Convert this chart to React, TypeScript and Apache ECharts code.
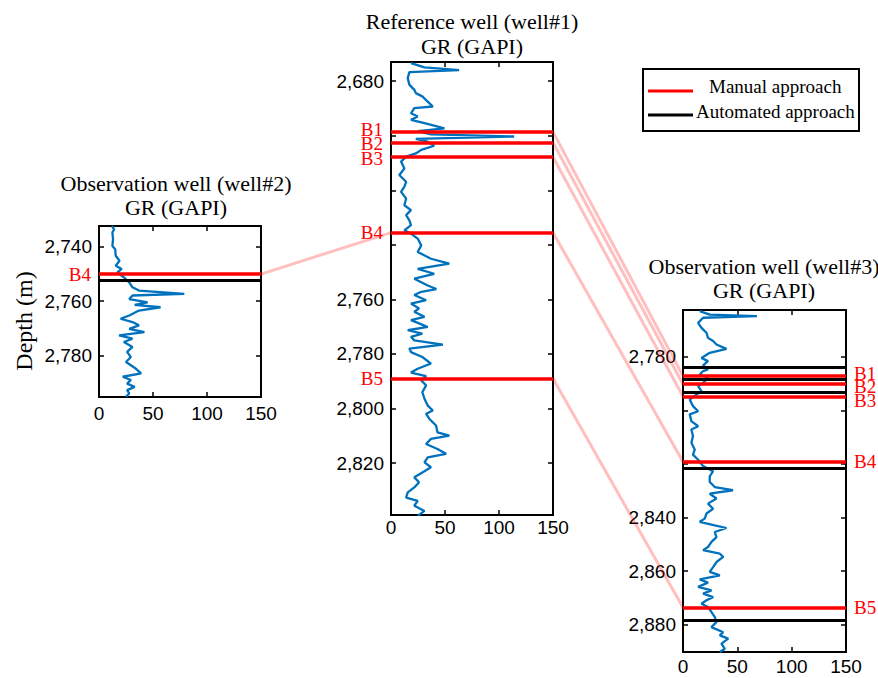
import React, { useEffect, useRef } from 'react';
import * as echarts from 'echarts';

// ---------- DATA ----------
const wellTitles = ['Observation well (well#2)', 'Reference well (well#1)', 'Observation well (well#3)'];
const axisUnit = 'GR (GAPI)';

const well2Depth = [2732.5, 2733.7, 2734.9, 2737.3, 2739.8, 2741, 2743.4, 2745.2, 2747, 2748.2, 2749.5, 2751.3, 2753.1, 2754.9, 2756.1, 2757.3, 2757.9, 2759.2, 2760.4, 2761.3, 2762.2, 2763.4, 2765.2, 2766.4, 2767.6, 2768.8, 2770.1, 2771.3, 2772.5, 2773.7, 2774.9, 2776.7, 2778.5, 2780.4, 2782.2, 2784.6, 2786.4, 2787.6, 2788.8, 2790.1, 2791.3, 2792.5, 2793.7, 2794.9];
const well2GR = [12, 14, 12.4, 13, 12.4, 15, 15.5, 19, 15.5, 21, 17, 23, 28, 31, 37, 79, 31, 28, 45, 33, 57, 37, 28, 20, 31, 37, 28, 42, 18.6, 31, 23, 31, 26, 29.5, 25, 34, 39, 22, 29.5, 26, 33, 26, 28, 25];

const well1Depth = [2673.4, 2675, 2676, 2676.7, 2678.9, 2681.3, 2683.2, 2684.4, 2685.6, 2687.5, 2689.3, 2689.9, 2691.8, 2693, 2694.2, 2695.4, 2697.3, 2698.3, 2699.5, 2700.3, 2701.2, 2702.2, 2703.7, 2705.2, 2706.5, 2707.7, 2709.5, 2712, 2714.4, 2716.9, 2718.7, 2720.6, 2723, 2725.5, 2727.3, 2729.1, 2731, 2732.8, 2734.7, 2735.9, 2737.7, 2740.2, 2742.6, 2745.1, 2746.9, 2748.8, 2750.6, 2752.4, 2754.9,
  2756.2, 2757.2, 2758.4, 2760.3, 2761.5, 2763.3, 2764.5, 2766.4, 2767.6, 2768.8, 2770.1, 2771.3, 2772.5, 2773.7, 2775, 2776.6, 2778, 2779.3, 2781.1, 2783.5, 2785.4, 2786.8, 2788.1, 2789.7, 2791.5, 2794, 2796.4, 2798.9, 2800.7, 2801.9, 2803.8, 2806.2, 2808.7, 2809.9, 2811.1, 2813, 2814.8, 2816.6, 2817.9, 2819.7, 2821.5, 2823.4, 2825.2, 2827, 2828.9, 2830.7, 2832.6, 2833.8, 2835.6, 2837.5, 2839.3];
const well1GR = [18.5, 31, 63, 17, 15.5, 17, 21.6, 23, 29, 34, 38.7, 21.6, 18.5, 24.7, 18.5, 31, 49.5, 24.7, 37, 114, 23, 34, 40, 28, 23, 14, 9.3, 12.4, 7.7, 14, 12.4, 9.3, 14, 12.4, 18.5, 14, 17, 18.5, 12.4, 18.5, 24.7, 28, 24.7, 37, 54, 24.7, 40, 21.6, 34,
  42, 28, 21.6, 32.5, 18.5, 26, 21.6, 31, 18.5, 26, 34, 15.5, 29, 18.5, 21.6, 48, 17, 18.5, 29, 37, 24.7, 18.5, 32.5, 28, 32.5, 29, 31, 34, 38.7, 32.5, 35.6, 41.7, 43, 54, 37, 32.5, 43, 51, 34, 31, 37, 29, 21.6, 26, 21.6, 15.5, 14, 24.7, 21.6, 31, 24.7];

const well3Depth = [2762.9, 2764.2, 2764.8, 2765.4, 2767.3, 2769.2, 2771, 2772.9, 2774.1, 2775.4, 2777, 2778.5, 2780.4, 2781.6, 2783.2, 2784.7, 2785.3, 2786.6, 2787.8, 2789.7, 2790.9, 2792.8, 2794.1, 2795.9, 2798.4, 2800.3, 2801.5, 2804, 2805.9, 2807.1, 2809.6, 2812.1, 2814.6, 2816.5, 2818.4, 2820.8, 2822.7, 2824.6,
  2826.7, 2828.6, 2829.8, 2831.1, 2832.9, 2834.8, 2836.7, 2838.5, 2840.4, 2841.6, 2842.9, 2843.9, 2845.4, 2847.3, 2849.1, 2851, 2852.2, 2853.5, 2854.7, 2856.6, 2858.5, 2860.3, 2861.6, 2863.1, 2864.3, 2865.9, 2867.2, 2868.4, 2869.7, 2870.9, 2872.2, 2873.4, 2875.3, 2877.1, 2879, 2880.9, 2882.8, 2884, 2885.2, 2887.1, 2889, 2890.2];
const well3GR = [15.4, 24.6, 68, 18.5, 13.9, 17, 21.6, 23, 27.7, 30.8, 40, 24.6, 17, 23, 18.5, 23, 18.5, 15.4, 23, 18.5, 13.9, 17, 12.3, 6.2, 9.2, 13.9, 6.2, 7.7, 13.9, 7.7, 9.2, 7.7, 10.8, 9.2, 13.9, 18.5, 27.7, 24.6,
  24.6, 29.2, 46, 24.6, 30.8, 23, 27.7, 21.6, 20, 15.4, 29.2, 40, 29.2, 30.8, 26.2, 23, 18.5, 33.9, 37, 30.8, 27.7, 24.6, 33.9, 15.4, 23, 13.9, 26.2, 18.5, 27.7, 21.6, 17, 23, 26.2, 29.2, 30.8, 26.2, 37, 33.9, 41.6, 35.4, 38.5, 33.9];

// boundaries (m)
const well2Names = ['B4'];
const well2Manual = [2750.1];
const well2Auto = [2752.4];
const well1Names = ['B1', 'B2', 'B3', 'B4', 'B5'];
const well1Manual = [2698.6, 2702.5, 2707.8, 2735.5, 2789];
const well3Names = ['B1', 'B2', 'B3', 'B4', 'B5'];
const well3Manual = [2787.1, 2790.2, 2794.8, 2819.2, 2873.6];
const well3Auto = [2784.0, 2788.3, 2793.1, 2821.6, 2878.4];

// axes
const grMin = 0;
const grMax = 150;
const grStep = 50;
const well2Range = [2732.5, 2795];
const well1Range = [2673, 2839];
const well3Range = [2762.5, 2890.2];
const well2Ticks = [2740, 2760, 2780];
const well2Labels = [2740, 2760, 2780];
const well1Ticks = [2680, 2700, 2720, 2740, 2760, 2780, 2800, 2820];
const well1Labels = [2680, 2760, 2780, 2800, 2820];
const well3Ticks = [2780, 2800, 2820, 2840, 2860, 2880];
const well3Labels = [2780, 2840, 2860, 2880];

const legendNames = ['Manual approach', 'Automated approach'];

// ---------- STYLE / LAYOUT ----------
const RED = '#ff0000';
const BLUE = '#0072BD';
const SERIF = '"Liberation Serif", "Times New Roman", serif';
const SANS = '"Liberation Sans", Arial, sans-serif';

const layouts = [
  { left: 99, top: 226, width: 162, height: 171, labelSide: 'start', xMargin: 7, t1: 183, t2: 207, tx: 176, labelDy: [0] },
  { left: 391, top: 62, width: 162, height: 453, labelSide: 'start', xMargin: 3, t1: 21, t2: 46, tx: 472, labelDy: [-2.5, 1, 2, 0, 0] },
  { left: 683, top: 310, width: 163, height: 342, labelSide: 'end', xMargin: 5, t1: 266, t2: 290, tx: 764, labelDy: [-2.5, 2, 3.5, 0, 0] },
];

const fmt = (v: number) => String(v).replace(/\B(?=(\d{3})+(?!\d))/g, ',');

export default function App() {
  const ref = useRef<HTMLDivElement>(null);
  useEffect(() => {
    if (!ref.current) return;
    const chart = echarts.init(ref.current, null, { renderer: 'svg' });

    const wells = [
      { depth: well2Depth, gr: well2GR, range: well2Range, ticks: well2Ticks, labels: well2Labels, names: well2Names, manual: well2Manual, auto: well2Auto },
      { depth: well1Depth, gr: well1GR, range: well1Range, ticks: well1Ticks, labels: well1Labels, names: well1Names, manual: well1Manual, auto: [] as number[] },
      { depth: well3Depth, gr: well3GR, range: well3Range, ticks: well3Ticks, labels: well3Labels, names: well3Names, manual: well3Manual, auto: well3Auto },
    ];

    const grid: any[] = [];
    const xAxis: any[] = [];
    const yAxis: any[] = [];
    const series: any[] = [];

    wells.forEach((w, i) => {
      const L = layouts[i];
      grid.push({ left: L.left, top: L.top, width: L.width, height: L.height, containLabel: false });
      const axLine = { show: true, onZero: false, lineStyle: { color: '#000', width: 2 } };
      const xBase = {
        type: 'value', gridIndex: i, min: grMin, max: grMax, interval: grStep,
        axisLine: axLine, splitLine: { show: false },
        axisTick: { show: true, inside: true, length: 5, lineStyle: { color: '#000', width: 1.5 } },
      };
      xAxis.push({ ...xBase, position: 'bottom', axisLabel: { show: true, margin: L.xMargin, color: '#000', fontFamily: SANS, fontSize: 19 } });
      xAxis.push({ ...xBase, position: 'top', axisLabel: { show: false } });
      const yBase = {
        type: 'value', gridIndex: i, min: w.range[0], max: w.range[1], inverse: true,
        axisLine: axLine, splitLine: { show: false },
        axisTick: { show: true, inside: true, length: 5, customValues: w.ticks, lineStyle: { color: '#000', width: 1.5 } },
      };
      yAxis.push({ ...yBase, position: 'left', axisLabel: { show: true, customValues: w.labels, formatter: (v: number) => fmt(v), margin: 7, color: '#000', fontFamily: SANS, fontSize: 19 } });
      yAxis.push({ ...yBase, position: 'right', axisLabel: { show: false } });

      const mlData: any[] = [];
      w.auto.forEach((d) => mlData.push({ yAxis: d, lineStyle: { color: '#000', width: 3, type: 'solid' }, label: { show: false } }));
      w.manual.forEach((d, k) => mlData.push({
        yAxis: d, name: w.names[k], lineStyle: { color: RED, width: 3.5, type: 'solid' },
        label: {
          show: true, position: L.labelSide, formatter: '{b}', color: RED, fontFamily: SERIF, fontSize: 19,
          lineHeight: 12, distance: 8, offset: [0, L.labelDy[k] || 0],
        },
      }));

      series.push({
        type: 'line', xAxisIndex: i * 2, yAxisIndex: i * 2,
        data: w.depth.map((d, k) => [w.gr[k], d]),
        showSymbol: false, symbol: 'none', clip: true,
        lineStyle: { color: BLUE, width: 2.3 },
        markLine: { silent: true, symbol: ['none', 'none'], animation: false, data: mlData },
        z: 3,
      });
    });

    chart.setOption({ animation: false, backgroundColor: '#fff', grid, xAxis, yAxis, series });

    const graphic: any[] = [];
    // correlation links (computed through the axes)
    const px = (si: number, x: number, d: number) => chart.convertToPixel({ seriesIndex: si } as any, [x, d]) as number[];
    well1Names.forEach((nm, k) => {
      const d1 = well1Manual[k];
      const j2 = well2Names.indexOf(nm);
      if (j2 >= 0) {
        const a = px(0, grMax, well2Manual[j2]);
        const b = px(1, grMin, d1);
        graphic.push({ type: 'line', z: 1, silent: true, shape: { x1: a[0], y1: a[1], x2: b[0], y2: b[1] }, style: { stroke: 'rgba(255,0,0,0.25)', lineWidth: 3 } });
      }
      const j3 = well3Names.indexOf(nm);
      if (j3 >= 0) {
        const a = px(1, grMax, d1);
        const b = px(2, grMin, well3Manual[j3]);
        graphic.push({ type: 'line', z: 1, silent: true, shape: { x1: a[0], y1: a[1], x2: b[0], y2: b[1] }, style: { stroke: 'rgba(255,0,0,0.25)', lineWidth: 3 } });
      }
    });

    // titles
    layouts.forEach((L, i) => {
      graphic.push({ type: 'text', x: L.tx, y: L.t1, style: { text: wellTitles[i], font: `22px ${SERIF}`, fill: '#000', textAlign: 'center', textVerticalAlign: 'middle' } });
      graphic.push({ type: 'text', x: L.tx, y: L.t2, style: { text: axisUnit, font: `22px ${SERIF}`, fill: '#000', textAlign: 'center', textVerticalAlign: 'middle' } });
    });
    graphic.push({ type: 'text', x: 24, y: 321, rotation: Math.PI / 2, style: { text: 'Depth (m)', font: `24px ${SERIF}`, fill: '#000', textAlign: 'center', textVerticalAlign: 'middle' } });

    // legend
    graphic.push({ type: 'rect', shape: { x: 643, y: 69, width: 216, height: 62 }, style: { fill: '#fff', stroke: '#000', lineWidth: 2 } });
    graphic.push({ type: 'line', shape: { x1: 648, y1: 91, x2: 693, y2: 91 }, style: { stroke: RED, lineWidth: 3 } });
    graphic.push({ type: 'line', shape: { x1: 648, y1: 115, x2: 693, y2: 115 }, style: { stroke: '#000', lineWidth: 3 } });
    graphic.push({ type: 'text', x: 709, y: 86, style: { text: legendNames[0], font: `19px ${SERIF}`, fill: '#000', textAlign: 'left', textVerticalAlign: 'middle' } });
    graphic.push({ type: 'text', x: 696, y: 111, style: { text: legendNames[1], font: `19px ${SERIF}`, fill: '#000', textAlign: 'left', textVerticalAlign: 'middle' } });

    chart.setOption({ graphic });

    return () => chart.dispose();
  }, []);
  return <div ref={ref} style={{ position: 'fixed', left: 0, top: 0, width: 878, height: 678, background: '#fff' }} />;
}
